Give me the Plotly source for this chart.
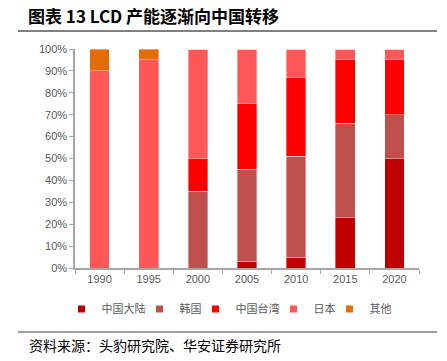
import plotly.graph_objects as go

years = ["1990", "1995", "2000", "2005", "2010", "2015", "2020"]
series_names = ["中国大陆", "韩国", "中国台湾", "日本", "其他"]
china = [0, 0, 0, 3, 5, 23, 50]
korea = [0, 0, 35, 42, 46, 43, 20]
taiwan = [0, 0, 15, 30, 36, 29, 25]
japan = [90, 95, 50, 25, 13, 5, 5]
others = [10, 5, 0, 0, 0, 0, 0]
colors = ["#C00000", "#C0504D", "#FF0000", "#FF5757", "#E36C09"]

values = [china, korea, taiwan, japan, others]

W, H = 447, 361
L, R, T, B = 75, 28, 49, 93
pw = W - L - R
ph = H - T - B

def px_x(x):
    return (x - L) / pw

def px_y(y):
    return (H - B - y) / ph

legend_ids = ["legend", "legend2", "legend3", "legend4", "legend5"]

# lay the legend entries side by side, centred like the reference
char_w, sym_w, gap = 11, 24, 10
widths = [sym_w + char_w * len(n) for n in series_names]
total = sum(widths) + gap * (len(widths) - 1)
start = 234.5 - total / 2
legend_px = []
cur = start
for w in widths:
    legend_px.append(cur)
    cur += w + gap

fig = go.Figure()
for name, vals, col in zip(series_names, values, colors):
    fig.add_trace(go.Bar(
        x=years, y=[v / 100 for v in vals], name=name,
        marker=dict(color=col, line=dict(color="rgba(255,255,255,0.45)", width=0.8)),
        width=0.4, showlegend=False,
    ))
for name, col, lid in zip(series_names, colors, legend_ids):
    fig.add_trace(go.Scatter(
        x=[None], y=[None], mode="markers", name=name,
        marker=dict(symbol="square", size=7, color=col),
        showlegend=True, legend=lid,
    ))

axis_col = "#A6A6A6"
tick_font = dict(family="Liberation Sans, Arial", size=11, color="#595959")
legend_font = dict(family="Noto Sans CJK SC", size=11, color="#595959")

legend_layout = {}
for lid, lx in zip(legend_ids, legend_px):
    legend_layout[lid] = dict(
        orientation="h", xref="container", x=(lx - 16) / W, xanchor="left",
        yref="container", y=1 - 309 / H, yanchor="middle",
        font=legend_font, itemwidth=30, bgcolor="rgba(0,0,0,0)",
    )

fig.update_layout(
    width=W, height=H,
    margin=dict(l=L, r=R, t=T, b=B, pad=0, autoexpand=False),
    barmode="stack",
    plot_bgcolor="white", paper_bgcolor="white",
    title=dict(
        text="<b>图表 13 LCD 产能逐渐向中国转移</b>",
        x=28 / W, xanchor="left", xref="container",
        y=1 - 17 / H, yanchor="middle", yref="container",
        font=dict(family="Noto Sans CJK SC", size=17, color="#000000"),
    ),
    xaxis=dict(
        type="category", showline=True, linecolor=axis_col, linewidth=1.5,
        ticks="outside", tickson="boundaries", ticklen=4, tickcolor=axis_col,
        tickfont=tick_font, showgrid=False, zeroline=False,
    ),
    yaxis=dict(
        range=[0, 1], dtick=0.1, tickformat=".0%", showline=True,
        linecolor=axis_col, linewidth=1.5, ticks="outside", ticklen=4,
        tickcolor=axis_col, tickfont=tick_font, showgrid=False, zeroline=False,
    ),
    shapes=[
        dict(type="line", xref="paper", yref="paper",
             x0=px_x(18), x1=px_x(437), y0=px_y(31), y1=px_y(31),
             line=dict(color="#7F7F7F", width=2)),
        dict(type="line", xref="paper", yref="paper",
             x0=px_x(18), x1=px_x(437), y0=px_y(332), y1=px_y(332),
             line=dict(color="#7F7F7F", width=1.5)),
    ],
    annotations=[
        dict(text="资料来源：头豹研究院、华安证券研究所", xref="paper", yref="paper",
             x=px_x(27), y=px_y(345), xanchor="left", yanchor="middle",
             showarrow=False,
             font=dict(family="Noto Sans CJK SC", size=14, color="#000000")),
    ],
    **legend_layout,
)

fig.write_html("out.html", config={"displayModeBar": False},
               post_script="document.body.style.margin='0';")
